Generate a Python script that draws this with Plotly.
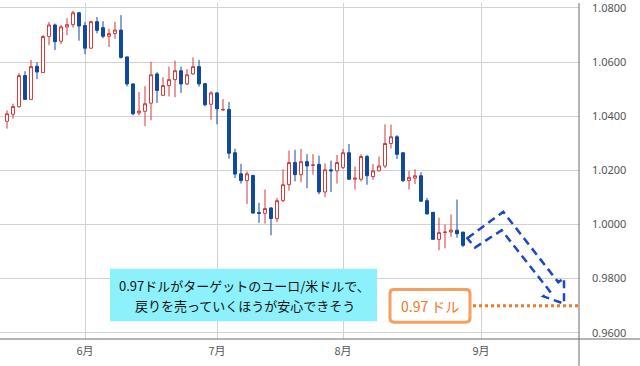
import plotly.graph_objects as go

# ---- data (EUR/USD daily) ----
dates = [
    "2022-05-13", "2022-05-16", "2022-05-17", "2022-05-18", "2022-05-19", "2022-05-20",
    "2022-05-23", "2022-05-24", "2022-05-25", "2022-05-26", "2022-05-27", "2022-05-30", "2022-05-31",
    "2022-06-01", "2022-06-02", "2022-06-03", "2022-06-06", "2022-06-07", "2022-06-08", "2022-06-09",
    "2022-06-10", "2022-06-13", "2022-06-14", "2022-06-15", "2022-06-16", "2022-06-17", "2022-06-20",
    "2022-06-21", "2022-06-22", "2022-06-23", "2022-06-24", "2022-06-27", "2022-06-28", "2022-06-29",
    "2022-06-30", "2022-07-01", "2022-07-04", "2022-07-05", "2022-07-06", "2022-07-07", "2022-07-08",
    "2022-07-11", "2022-07-12", "2022-07-13", "2022-07-14", "2022-07-15", "2022-07-18", "2022-07-19",
    "2022-07-20", "2022-07-21", "2022-07-22", "2022-07-25", "2022-07-26", "2022-07-27", "2022-07-28",
    "2022-07-29", "2022-08-01", "2022-08-02", "2022-08-03", "2022-08-04", "2022-08-05", "2022-08-08",
    "2022-08-09", "2022-08-10", "2022-08-11", "2022-08-12", "2022-08-15", "2022-08-16", "2022-08-17",
    "2022-08-18", "2022-08-19", "2022-08-22", "2022-08-23", "2022-08-24", "2022-08-25", "2022-08-26",
    "2022-08-29",
]
opens = [
    1.0381, 1.0407, 1.0435, 1.0550, 1.0462, 1.0584, 1.0561, 1.0694, 1.0737, 1.0677, 1.0729, 1.0738, 1.0782,
    1.0735, 1.0651, 1.0749, 1.0727, 1.0695, 1.0705, 1.0718, 1.0619, 1.0519, 1.0412, 1.0418, 1.0448, 1.0556,
    1.0477, 1.0513, 1.0535, 1.0568, 1.0519, 1.0556, 1.0583, 1.0520, 1.0444, 1.0486, 1.0423, 1.0425, 1.0265,
    1.0187, 1.0162, 1.0181, 1.0044, 1.0041, 1.0061, 1.0022, 1.0088, 1.0147, 1.0229, 1.0184, 1.0232, 1.0218,
    1.0222, 1.0120, 1.0202, 1.0198, 1.0211, 1.0265, 1.0167, 1.0167, 1.0251, 1.0177, 1.0198, 1.0216, 1.0299,
    1.0324, 1.0265, 1.0162, 1.0171, 1.0180, 1.0088, 1.0045, 0.9945, 0.9970, 0.9972, 0.9979, 0.9972,
]
highs = [
    1.0422, 1.0446, 1.0559, 1.0566, 1.0608, 1.0599, 1.0700, 1.0748, 1.0742, 1.0737, 1.0762, 1.0790, 1.0785,
    1.0748, 1.0753, 1.0766, 1.0751, 1.0723, 1.0749, 1.0773, 1.0620, 1.0522, 1.0489, 1.0511, 1.0601, 1.0562,
    1.0544, 1.0583, 1.0605, 1.0583, 1.0574, 1.0617, 1.0608, 1.0522, 1.0492, 1.0489, 1.0463, 1.0452, 1.0280,
    1.0224, 1.0196, 1.0184, 1.0080, 1.0129, 1.0064, 1.0098, 1.0204, 1.0273, 1.0276, 1.0279, 1.0260, 1.0260,
    1.0254, 1.0226, 1.0236, 1.0257, 1.0279, 1.0297, 1.0214, 1.0259, 1.0257, 1.0224, 1.0251, 1.0370, 1.0369,
    1.0330, 1.0265, 1.0198, 1.0204, 1.0193, 1.0098, 1.0045, 1.0025, 1.0000, 1.0037, 1.0092, 0.9972,
]
lows = [
    1.0354, 1.0391, 1.0432, 1.0460, 1.0460, 1.0537, 1.0560, 1.0662, 1.0644, 1.0666, 1.0699, 1.0727, 1.0679,
    1.0629, 1.0650, 1.0706, 1.0688, 1.0655, 1.0686, 1.0613, 1.0510, 1.0403, 1.0403, 1.0363, 1.0385, 1.0449,
    1.0474, 1.0473, 1.0470, 1.0486, 1.0515, 1.0552, 1.0509, 1.0437, 1.0387, 1.0370, 1.0419, 1.0243, 1.0171,
    1.0151, 1.0076, 1.0041, 1.0006, 1.0003, 0.9960, 1.0009, 1.0083, 1.0125, 1.0159, 1.0156, 1.0134, 1.0184,
    1.0112, 1.0101, 1.0120, 1.0151, 1.0205, 1.0166, 1.0129, 1.0159, 1.0147, 1.0165, 1.0196, 1.0208, 1.0281,
    1.0242, 1.0157, 1.0129, 1.0149, 1.0083, 1.0037, 0.9945, 0.9905, 0.9912, 0.9954, 0.9951, 0.9917,
]
closes = [
    1.0409, 1.0436, 1.0550, 1.0462, 1.0583, 1.0563, 1.0694, 1.0737, 1.0675, 1.0730, 1.0738, 1.0782, 1.0733,
    1.0651, 1.0749, 1.0717, 1.0695, 1.0705, 1.0718, 1.0617, 1.0519, 1.0409, 1.0419, 1.0446, 1.0553, 1.0495,
    1.0513, 1.0535, 1.0568, 1.0519, 1.0553, 1.0583, 1.0519, 1.0442, 1.0486, 1.0427, 1.0425, 1.0263, 1.0186,
    1.0162, 1.0187, 1.0042, 1.0041, 1.0059, 1.0022, 1.0088, 1.0147, 1.0229, 1.0184, 1.0232, 1.0216, 1.0220,
    1.0120, 1.0202, 1.0198, 1.0229, 1.0265, 1.0167, 1.0171, 1.0251, 1.0180, 1.0198, 1.0216, 1.0299, 1.0324,
    1.0259, 1.0162, 1.0174, 1.0180, 1.0086, 1.0039, 0.9945, 0.9970, 0.9972, 0.9979, 0.9966, 0.9923,
]

month_ticks = ["2022-06-01", "2022-07-01", "2022-08-01", "2022-09-01"]
month_labels = ["6月", "7月", "8月", "9月"]
price_ticks = [0.96, 0.98, 1.00, 1.02, 1.04, 1.06, 1.08]
target_price = 0.97
note_lines = ["0.97ドルがターゲットのユーロ/米ドルで、", "戻りを売っていくほうが安心できそう"]
target_label = "0.97 ドル"

RED = "#D4393A"
BLUE = "#0F4A9C"
GRID = "#D2D2D2"
AXIS = "#6A6A6A"
ORANGE = "#EE7A26"
ORANGE_BORDER = "#F4A060"
CYAN = "#8DF1FB"
ARROW = "#1C48C4"
JP = "Noto Sans CJK JP"

fig = go.Figure()
fig.add_trace(go.Candlestick(
    x=dates, open=opens, high=highs, low=lows, close=closes,
    increasing=dict(line=dict(color=RED, width=1), fillcolor="white"),
    decreasing=dict(line=dict(color=BLUE, width=1), fillcolor=BLUE),
    whiskerwidth=0, showlegend=False, hoverinfo="skip",
))

W, H = 640, 366
ML, MR, MT, MB = 0, 61, 0, 27
PW, PH = W - ML - MR, H - MT - MB


def px(x):
    return x / PW


def py(y):
    return (PH - y) / PH


shapes = []
# axis frame lines (extend into margins like the original)
shapes.append(dict(type="line", xref="paper", yref="paper", x0=1, x1=1, y0=py(H), y1=1,
                   line=dict(color=AXIS, width=1)))
shapes.append(dict(type="line", xref="paper", yref="paper", x0=0, x1=px(W), y0=0, y1=0,
                   line=dict(color=AXIS, width=1)))
# cyan note box
shapes.append(dict(type="rect", xref="paper", yref="paper", x0=px(110), x1=px(377), y0=py(321), y1=py(268),
                   fillcolor=CYAN, line=dict(width=0), layer="above"))
# orange target box with rounded corners
x0, x1, y0, y1, r = 390, 470, 289, 322, 4
path = (f"M {px(x0+r)} {py(y0)} L {px(x1-r)} {py(y0)} Q {px(x1)} {py(y0)} {px(x1)} {py(y0+r)} "
        f"L {px(x1)} {py(y1-r)} Q {px(x1)} {py(y1)} {px(x1-r)} {py(y1)} "
        f"L {px(x0+r)} {py(y1)} Q {px(x0)} {py(y1)} {px(x0)} {py(y1-r)} "
        f"L {px(x0)} {py(y0+r)} Q {px(x0)} {py(y0)} {px(x0+r)} {py(y0)} Z")
shapes.append(dict(type="path", xref="paper", yref="paper", path=path, fillcolor="white",
                   line=dict(color=ORANGE_BORDER, width=3), layer="above"))
# dotted target line
shapes.append(dict(type="line", xref="paper", yref="y", x0=px(473), x1=1, y0=target_price, y1=target_price,
                   line=dict(color=ORANGE, width=3, dash="dot"), layer="above"))
# dashed blue arrow
pts = [(467.3, 237.3), (503.3, 210.7), (558.3, 281.7), (564, 277.7), (564, 303.3),
       (543.3, 296), (550, 291), (501.7, 229.3), (475, 246.7)]
apath = "M " + " L ".join(f"{px(a)} {py(b)}" for a, b in pts) + " Z"
shapes.append(dict(type="path", xref="paper", yref="paper", path=apath,
                   line=dict(color=ARROW, width=2.5, dash="8px,5px"), layer="above"))

annotations = [
    dict(xref="paper", yref="paper", x=px(244), y=py(285), text=note_lines[0], showarrow=False,
         font=dict(family=JP, size=13, color="#111111"), xanchor="center", yanchor="middle"),
    dict(xref="paper", yref="paper", x=px(245), y=py(305), text=note_lines[1], showarrow=False,
         font=dict(family=JP, size=13, color="#111111"), xanchor="center", yanchor="middle"),
    dict(xref="paper", yref="paper", x=px(430), y=py(305.5), text=target_label, showarrow=False,
         font=dict(family=JP, size=14, color=ORANGE), xanchor="center", yanchor="middle"),
]

fig.update_layout(
    width=W, height=H, margin=dict(l=ML, r=MR, t=MT, b=MB),
    paper_bgcolor="white", plot_bgcolor="white",
    shapes=shapes, annotations=annotations, showlegend=False,
    xaxis=dict(
        type="date", range=["2022-05-11 20:00", "2022-09-23 08:00"],
        rangebreaks=[dict(bounds=["sat", "mon"])],
        rangeslider=dict(visible=False),
        tickmode="array", tickvals=month_ticks, ticktext=month_labels,
        showgrid=True, gridcolor=GRID, gridwidth=1, zeroline=False, showline=False, ticks="",
        tickfont=dict(family=JP, size=11, color="#555555"), ticklabelstandoff=4,
    ),
    yaxis=dict(
        side="right", range=[0.9577, 1.0818], tickmode="array", tickvals=price_ticks,
        tickformat=".4f", showgrid=True, gridcolor=GRID, gridwidth=1, zeroline=False,
        showline=False, ticks="", tickfont=dict(family="Noto Sans", size=11, color="#555555"),
        ticklabelstandoff=12, ticklabeloverflow="allow",
    ),
)

fig.write_html(
    "out.html",
    config={"displayModeBar": False, "staticPlot": True},
    post_script="document.body.style.margin='0';document.body.style.overflow='hidden';",
)
